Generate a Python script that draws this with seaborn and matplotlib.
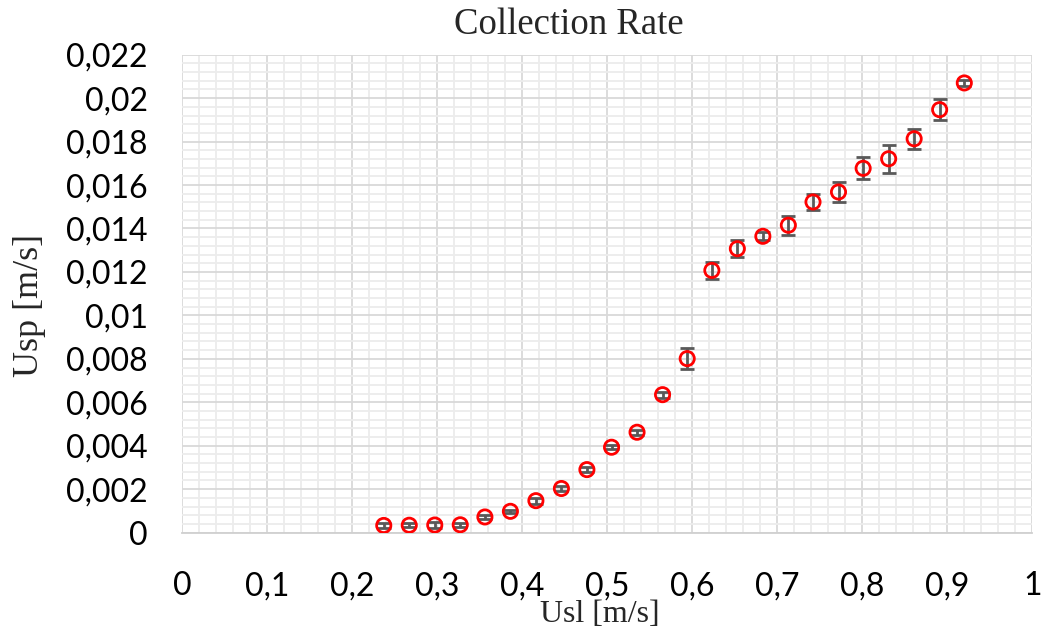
import matplotlib
matplotlib.use("Agg")
import matplotlib.pyplot as plt
import seaborn as sns
import numpy as np
import pandas as pd
from matplotlib.ticker import MultipleLocator

# ---- data ----
usl = [0.237, 0.267, 0.297, 0.327, 0.356, 0.386, 0.416, 0.446, 0.476, 0.505,
       0.535, 0.565, 0.594, 0.623, 0.653, 0.683, 0.713, 0.742, 0.772, 0.801,
       0.831, 0.861, 0.891, 0.920]
usp = [0.00033, 0.00034, 0.00035, 0.00036, 0.00072, 0.00098, 0.00147, 0.00203,
       0.00290, 0.00393, 0.00462, 0.00635, 0.00801, 0.01207, 0.01307, 0.01364,
       0.01415, 0.01522, 0.01568, 0.01677, 0.01721, 0.01813, 0.01947, 0.02070]
usp_err = [0.00010, 0.00010, 0.00012, 0.00010, 0.00010, 0.00008, 0.00014, 0.00010,
           0.00010, 0.00010, 0.00012, 0.00014, 0.00047, 0.00038, 0.00039, 0.00018,
           0.00044, 0.00038, 0.00045, 0.00050, 0.00064, 0.00046, 0.00048, 0.00014]

x_ticks = [0.0, 0.1, 0.2, 0.3, 0.4, 0.5, 0.6, 0.7, 0.8, 0.9, 1.0]
x_tick_labels = ["0", "0,1", "0,2", "0,3", "0,4", "0,5", "0,6", "0,7", "0,8", "0,9", "1"]
y_ticks = [0.0, 0.002, 0.004, 0.006, 0.008, 0.010, 0.012, 0.014, 0.016, 0.018, 0.020, 0.022]
y_tick_labels = ["0", "0,002", "0,004", "0,006", "0,008", "0,01", "0,012", "0,014",
                 "0,016", "0,018", "0,02", "0,022"]

title = "Collection Rate"
x_label = "Usl [m/s]"
y_label = "Usp [m/s]"

df = pd.DataFrame({"usl": usl, "usp": usp, "err": usp_err})

sns.set_theme(style="white")
plt.rcParams["font.family"] = ["Lato", "DejaVu Sans"]

W, H = 1044, 633
fig = plt.figure(figsize=(W / 100, H / 100), dpi=100)
ax = fig.add_axes([182.3 / W, 1 - 532.6 / H, 850 / W, (532.6 - 54.7) / H])

# error bars beneath markers
ax.errorbar(df["usl"], df["usp"], yerr=df["err"], fmt="none",
            ecolor="#595959", elinewidth=2.0, capsize=5.0, capthick=2.0, zorder=3)
sns.scatterplot(data=df, x="usl", y="usp", ax=ax, marker="o", s=105,
                facecolors="none", edgecolor="#ff0000", linewidth=2.0,
                zorder=4, legend=False)

ax.set_xlim(0, 1)
ax.set_ylim(0, 0.022)
ax.set_xticks(x_ticks)
ax.set_xticklabels(x_tick_labels)
ax.set_yticks(y_ticks)
ax.set_yticklabels(y_tick_labels)
ax.xaxis.set_minor_locator(MultipleLocator(0.02))
ax.yaxis.set_minor_locator(MultipleLocator(0.0004))
ax.grid(which="major", color="#d9d9d9", linewidth=1.3, zorder=1)
ax.grid(which="minor", color="#ececec", linewidth=1.3, zorder=0)
ax.set_axisbelow(True)
ax.tick_params(axis="both", which="both", length=0, labelsize=23, colors="black")
ax.tick_params(axis="x", pad=28)
ax.tick_params(axis="y", pad=25)
for side in ["top", "right", "left"]:
    ax.spines[side].set_visible(False)
ax.spines["bottom"].set_color("#d0d0d0")
ax.spines["bottom"].set_linewidth(1.3)
ax.set_xlabel("")
ax.set_ylabel("")

serif = ["Liberation Serif", "DejaVu Serif"]
fig.text(569 / W, 1 - 34 / H, title, family=serif, fontsize=26.5,
         ha="center", va="baseline")
fig.text(600 / W, 1 - 622 / H, x_label, family=serif, fontsize=23,
         ha="center", va="baseline")
fig.text(29 / W, 1 - 305 / H, y_label, family=serif, fontsize=26,
         ha="center", va="center", rotation=90)

fig.savefig("out.png", dpi=100)
